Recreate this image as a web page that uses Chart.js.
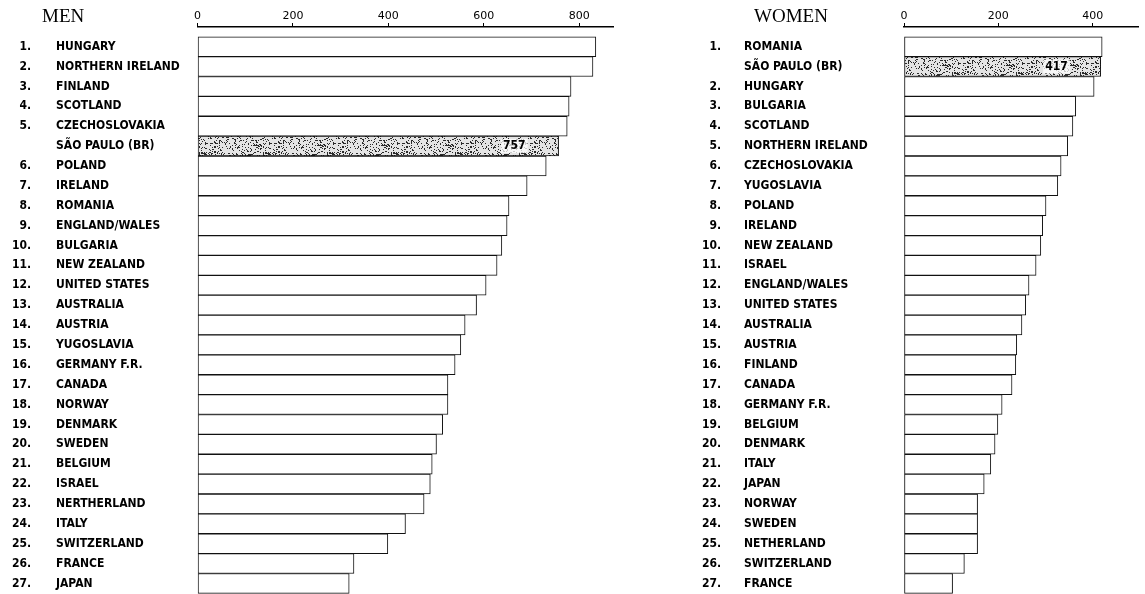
<!DOCTYPE html>
<html>
<head>
<meta charset="utf-8">
<script src="https://cdn.jsdelivr.net/npm/chart.js@4.4.1/dist/chart.umd.min.js"></script>
<style>
  html, body { margin: 0; padding: 0; background: #fff; }
  #wrap { position: relative; width: 1145px; height: 594px; overflow: hidden; }
  canvas { position: absolute; top: 0; }
  #men { left: 0; }
  #women { left: 625px; }
</style>
</head>
<body>
<div id="wrap">
  <canvas id="men" width="625" height="594"></canvas>
  <canvas id="women" width="520" height="594"></canvas>
</div>
<script>
// rank "" marks the Sao Paulo reference row
const menRanks = ["1.", "2.", "3.", "4.", "5.", "", "6.", "7.", "8.", "9.", "10.", "11.", "12.", "13.",
  "14.", "15.", "16.", "17.", "18.", "19.", "20.", "21.", "22.", "23.", "24.", "25.", "26.", "27."];
const menCountries = ["HUNGARY", "NORTHERN IRELAND", "FINLAND", "SCOTLAND", "CZECHOSLOVAKIA", "SÃO PAULO (BR)",
  "POLAND", "IRELAND", "ROMANIA", "ENGLAND/WALES", "BULGARIA", "NEW ZEALAND", "UNITED STATES", "AUSTRALIA",
  "AUSTRIA", "YUGOSLAVIA", "GERMANY F.R.", "CANADA", "NORWAY", "DENMARK", "SWEDEN", "BELGIUM", "ISRAEL",
  "NERTHERLAND", "ITALY", "SWITZERLAND", "FRANCE", "JAPAN"];
const menValues = [835, 829, 783, 779, 775, 757, 731, 691, 653, 649, 638, 628, 605, 585,
  561, 552, 540, 525, 525, 514, 501, 492, 488, 475, 436, 399, 328, 318];
const menTicks = [0, 200, 400, 600, 800];

const womenRanks = ["1.", "", "2.", "3.", "4.", "5.", "6.", "7.", "8.", "9.", "10.", "11.", "12.", "13.",
  "14.", "15.", "16.", "17.", "18.", "19.", "20.", "21.", "22.", "23.", "24.", "25.", "26.", "27."];
const womenCountries = ["ROMANIA", "SÃO PAULO (BR)", "HUNGARY", "BULGARIA", "SCOTLAND", "NORTHERN IRELAND",
  "CZECHOSLOVAKIA", "YUGOSLAVIA", "POLAND", "IRELAND", "NEW ZEALAND", "ISRAEL", "ENGLAND/WALES", "UNITED STATES",
  "AUSTRALIA", "AUSTRIA", "FINLAND", "CANADA", "GERMANY F.R.", "BELGIUM", "DENMARK", "ITALY", "JAPAN",
  "NORWAY", "SWEDEN", "NETHERLAND", "SWITZERLAND", "FRANCE"];
const womenValues = [420, 417, 403, 364, 358, 347, 333, 326, 301, 294, 290, 280, 265, 258,
  250, 239, 237, 229, 208, 199, 193, 184, 170, 156, 156, 156, 128, 103];
const womenTicks = [0, 200, 400];

const labelFont = 'bold 12px "DejaVu Sans Condensed"';

// speckled fill for the reference bar (texture only)
function stipple() {
  const c = document.createElement('canvas');
  c.width = 64; c.height = 20;
  const g = c.getContext('2d');
  g.fillStyle = '#e4e4e4';
  g.fillRect(0, 0, c.width, c.height);
  g.fillStyle = '#2a2a2a';
  for (let y = 0; y < c.height; y++) {
    for (let x = 0; x < c.width; x++) {
      const h = Math.sin(x * 12.9898 + y * 78.233) * 43758.5453;
      if (h - Math.floor(h) < 0.22) g.fillRect(x, y, 1, 1);
    }
  }
  return g.createPattern(c, 'repeat');
}

function sideLabels(cfg) {
  return {
    id: 'sideLabels',
    afterDraw(chart) {
      const ctx = chart.ctx;
      const yScale = chart.scales.y;
      ctx.save();
      ctx.fillStyle = '#000';
      ctx.textBaseline = 'middle';
      ctx.font = labelFont;
      cfg.ranks.forEach((r, i) => {
        const py = yScale.getPixelForValue(i);
        ctx.textAlign = 'right';
        ctx.fillText(r, cfg.rankX, py);
        ctx.textAlign = 'left';
        ctx.fillText(cfg.names[i], cfg.nameX, py);
      });
      // value on the highlighted bar, on a lighter patch
      const meta = chart.getDatasetMeta(0);
      cfg.ranks.forEach((r, i) => {
        if (r !== '') return;
        const bar = meta.data[i];
        const txt = String(cfg.values[i]);
        const w = ctx.measureText(txt).width;
        ctx.fillStyle = 'rgba(255,255,255,0.75)';
        ctx.fillRect(bar.x - 35 - w, bar.y - 7, w + 4, 14);
        ctx.fillStyle = '#000';
        ctx.textAlign = 'right';
        ctx.fillText(txt, bar.x - 33, bar.y);
      });
      ctx.font = '19px "Liberation Serif"';
      ctx.textAlign = 'left';
      ctx.fillText(cfg.title, cfg.titleX, 17);
      ctx.restore();
    }
  };
}

function makeChart(id, cfg) {
  const pattern = stipple();
  return new Chart(document.getElementById(id), {
    type: 'bar',
    data: {
      datasets: [{
        data: cfg.values.map((v, i) => ({ x: v, y: i })),
        backgroundColor: cfg.ranks.map(r => r === '' ? pattern : '#fff'),
        borderColor: '#111',
        borderWidth: 1,
        borderSkipped: false,
        barPercentage: 1,
        categoryPercentage: 1,
      }]
    },
    options: {
      indexAxis: 'y',
      responsive: false,
      animation: false,
      layout: { padding: { left: 0, right: cfg.padRight, top: 0, bottom: 0 } },
      plugins: { legend: { display: false }, tooltip: { enabled: false } },
      scales: {
        x: {
          position: 'top',
          min: 0,
          max: cfg.max,
          afterBuildTicks: s => { s.ticks = cfg.ticks.map(v => ({ value: v })); },
          afterFit: s => { s.height = 27; },
          grid: { drawOnChartArea: false, drawTicks: true, tickLength: 4, color: '#000' },
          border: { display: true, color: '#000', width: 1.5 },
          ticks: {
            color: '#000',
            font: { family: 'DejaVu Sans', size: 11 },
            padding: 0,
            maxRotation: 0,
            autoSkip: false,
          }
        },
        y: {
          type: 'linear',
          reverse: true,
          offset: false,
          min: -0.99,
          max: 27.53,
          afterBuildTicks: s => { s.ticks = cfg.values.map((v, i) => ({ value: i })); },
          afterFit: s => { s.width = cfg.left; },
          grid: { display: false, offset: false },
          border: { display: false },
          ticks: { display: false }
        }
      }
    },
    plugins: [sideLabels(cfg)]
  });
}

makeChart('men', {
  values: menValues, ranks: menRanks, names: menCountries, ticks: menTicks,
  max: 871, left: 197.5, padRight: 12,
  rankX: 31, nameX: 56, title: 'MEN', titleX: 42
});

makeChart('women', {
  values: womenValues, ranks: womenRanks, names: womenCountries, ticks: womenTicks,
  max: 496, left: 279, padRight: 7,
  rankX: 96, nameX: 119, title: 'WOMEN', titleX: 129
});
</script>
</body>
</html>
